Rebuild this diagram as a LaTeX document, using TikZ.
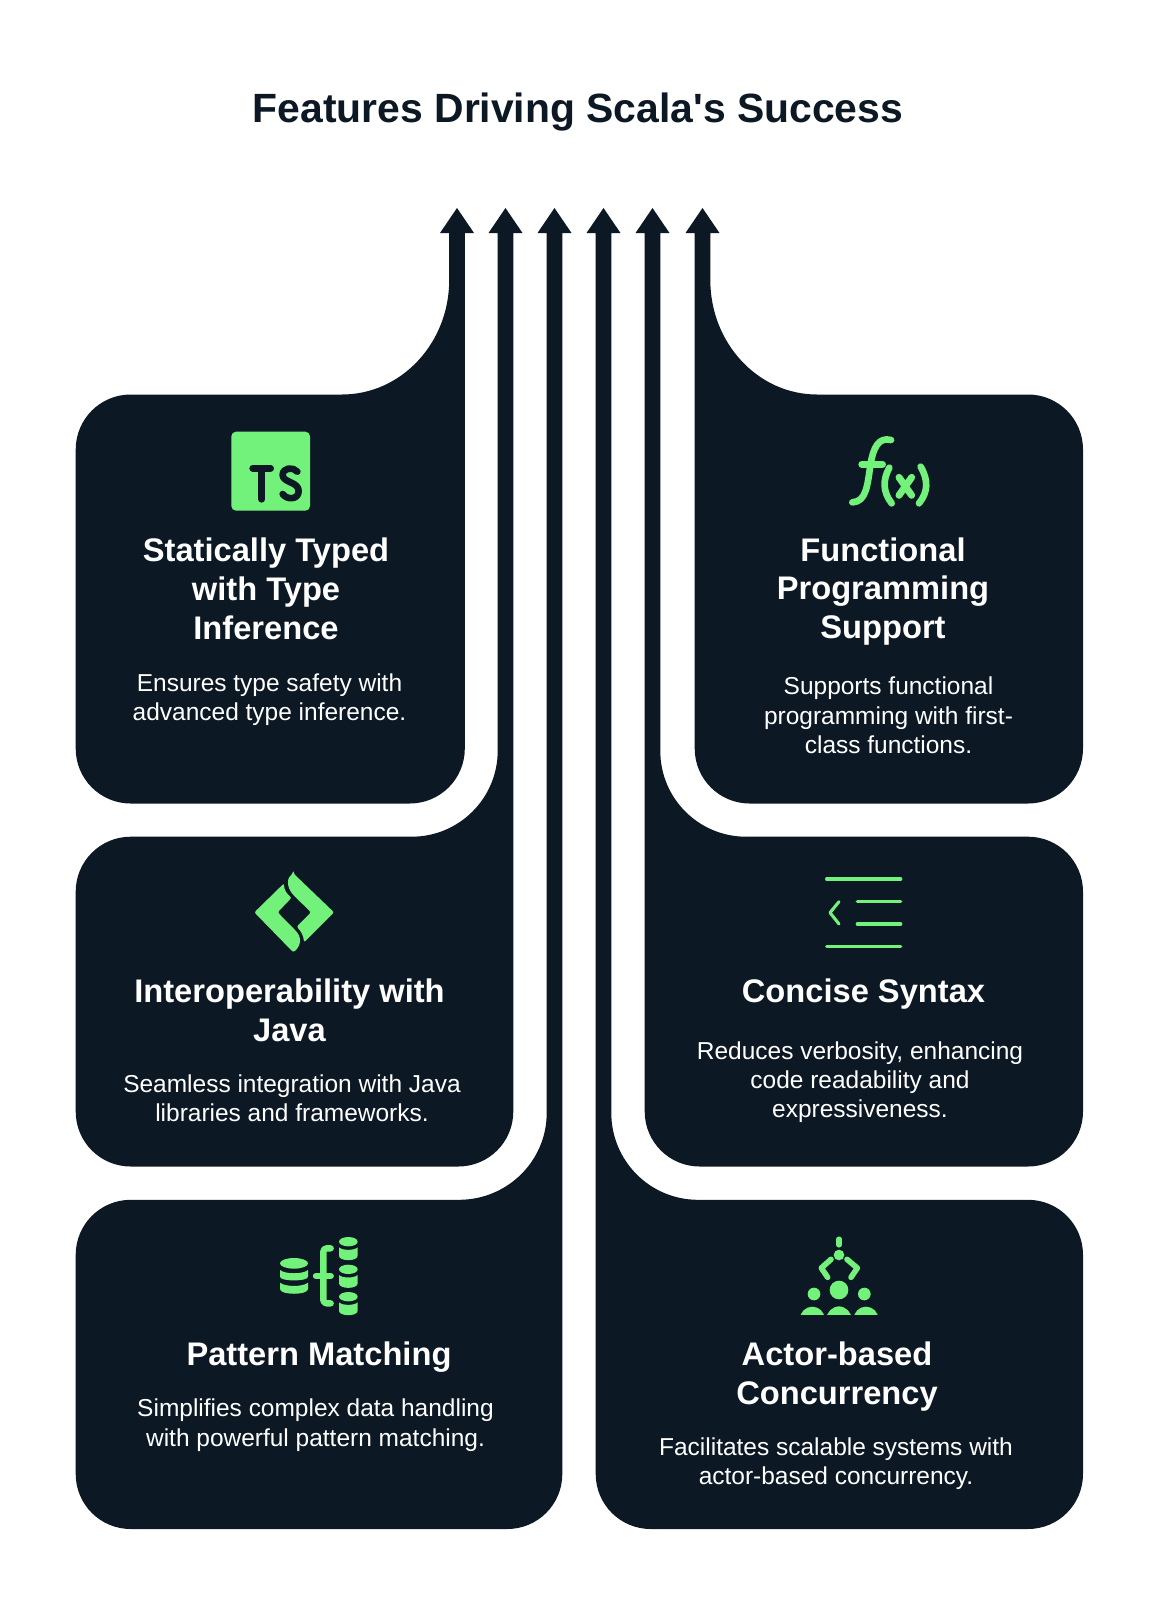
\documentclass[tikz,border=0pt]{standalone}
\usepackage{fontspec}
\setmainfont{Liberation Sans}
\newfontfamily\plainsans{Liberation Sans}
\definecolor{ink}{HTML}{0D1825}
\definecolor{mint}{HTML}{72F27A}
\tikzset{
  card/.style={fill=ink},
  titlebox/.style={text=ink,font=\plainsans\bfseries\fontsize{30.65}{36}\selectfont,align=center,inner sep=0pt},
  headbox/.style={text=white,font=\bfseries\fontsize{24.5}{29.2}\selectfont,align=center,inner sep=0pt},
  bodybox/.style={text=white,font=\fontsize{18.36}{22}\selectfont,align=center,inner sep=0pt},
  iconline/.style={draw=mint,line cap=round,line join=round},
  iconfill/.style={fill=mint},
  inkline/.style={draw=ink,line cap=round,line join=round},
  zoomed/.style={x=.25pt,y=-.25pt}
}
\newcommand{\arrowcard}[7]{%
  \pgfmathsetmacro{\tipx}{#1}\pgfmathsetmacro{\sgn}{#2}%
  \pgfmathsetmacro{\inr}{\tipx+\sgn*7.8}\pgfmathsetmacro{\jnr}{\tipx-\sgn*7.8}%
  \pgfmathsetmacro{\hda}{\tipx+\sgn*17}\pgfmathsetmacro{\hdb}{\tipx-\sgn*17}%
  \pgfmathsetmacro{\oa}{#3+\sgn*55}\pgfmathsetmacro{\ob}{#3+\sgn*24.6}%
  \pgfmathsetmacro{\ia}{\inr-\sgn*55}\pgfmathsetmacro{\ib}{\inr-\sgn*24.6}%
  \pgfmathsetmacro{\ca}{#7+.5523*(\jnr-#7)}\pgfmathsetmacro{\cb}{#6+.5523*(#4-#6)}%
  \fill[card] (\tipx,208) -- (\hda,233) -- (\inr,233) -- (\inr,#5-55)
    .. controls (\inr,#5-24.6) and (\ib,#5) .. (\ia,#5) -- (\oa,#5)
    .. controls (\ob,#5) and (#3,#5-24.6) .. (#3,#5-55) -- (#3,#4+55)
    .. controls (#3,#4+24.6) and (\ob,#4) .. (\oa,#4) -- (#7,#4)
    .. controls (\ca,#4) and (\jnr,\cb) .. (\jnr,#6) -- (\jnr,233) -- (\hdb,233) -- cycle;
}
\begin{document}
\begin{tikzpicture}[x=.75pt,y=-.75pt]
\useasboundingbox (0,0) rectangle (1158,1600);
\fill[white] (0,0) rectangle (1158,1600);
\node[titlebox] (title) at (578,112) {Features Driving Scala's Success};

\arrowcard{457}{1}{75.7}{394.5}{803.5}{280}{342}
\arrowcard{505.5}{1}{75.7}{836.7}{1166.5}{750.7}{411.7}
\arrowcard{554.5}{1}{75.7}{1199.8}{1529}{1113}{459}
\arrowcard{603.5}{-1}{1083}{1199.8}{1529}{1113}{698}
\arrowcard{652.5}{-1}{1083}{836.7}{1166.5}{751}{746}
\arrowcard{702.5}{-1}{1083}{394.5}{803.5}{280}{817}

% text
\node[headbox] (h1) at (266,588.5) {Statically Typed\\with Type\\Inference};
\node[bodybox] (b1) at (269.5,699.5) {Ensures type safety with\\advanced type inference.};
\node[headbox] (h6) at (883,591.5) {Functional\\Programming\\Support};
\node[bodybox] (b6) at (888.5,715.5) {Supports functional\\programming with first-\\class functions.};
\node[headbox] (h2) at (289.5,1010) {Interoperability with\\Java};
\node[bodybox] (b2) at (292,1098.5) {Seamless integration with Java\\libraries and frameworks.};
\node[headbox] (h5) at (863.5,994) {Concise Syntax};
\node[bodybox] (b5) at (860,1082) {Reduces verbosity, enhancing\\code readability and\\expressiveness.};
\node[headbox] (h3) at (319,1357) {Pattern Matching};
\node[bodybox] (b3) at (315.5,1425) {Simplifies complex data handling\\with powerful pattern matching.};
\node[headbox] (h4) at (837,1377) {Actor-based\\Concurrency};
\node[bodybox] (b4) at (836,1463.5) {Facilitates scalable systems with\\actor-based concurrency.};

% TS icon
\begin{scope}[shift={(200,410)},zoomed]
  \fill[iconfill,rounded corners=3.5pt] (94,65) rectangle (330,302);
  \draw[inkline,line width=5pt] (158,175) -- (212,175) (185,175) -- (185,268);
  \draw[inkline,line width=5pt] (292,185) .. controls (280,170) and (248,172) .. (248,195)
     .. controls (248,218) and (296,215) .. (296,243) .. controls (296,270) and (260,270) .. (248,252);
\end{scope}

% f(x) icon
\begin{scope}[shift={(820,420)},zoomed]
  \draw[iconline,line width=5pt] (213,60) .. controls (175,50) and (160,85) .. (152,130)
     .. controls (142,195) and (140,245) .. (97,247);
  \draw[iconline,line width=5pt] (125,133) -- (188,133);
  \draw[iconline,line width=5pt] (208,143) .. controls (188,180) and (188,215) .. (215,250);
  \draw[iconline,line width=5pt] (302,140) .. controls (325,180) and (325,215) .. (297,250);
  \draw[iconline,line width=5.2pt] (237,172) -- (275,226) (275,172) -- (237,226);
\end{scope}

% diamond icon
\begin{scope}[shift={(230,855)},zoomed]
  \fill[iconfill,rounded corners=1.5pt] (73,172) -- (162,85)
     .. controls (162,105) and (172,118) .. (185,128) -- (143,172) -- (192,222)
     .. controls (215,245) and (215,270) .. (190,292) -- cycle;
  \fill[iconfill,rounded corners=1.5pt] (190,55) -- (312,172) -- (222,262)
     .. controls (220,240) and (212,228) .. (200,215) -- (243,172) -- (190,120)
     .. controls (170,95) and (170,68) .. (190,55) -- cycle;
\end{scope}

% concise syntax icon
\begin{scope}[shift={(800,860)},zoomed]
  \draw[iconline,line width=2.5pt] (80,57) -- (302,57) (172,125) -- (302,125)
     (172,192) -- (302,192) (80,259) -- (302,259);
  \draw[iconline,line width=2.3pt] (117,125) -- (90,158) -- (117,192);
\end{scope}

% pattern icon
\begin{scope}[shift={(260,1215)},zoomed]
  \fill[iconfill] (102,145) ellipse[x radius=42,y radius=16];
  \fill[iconfill] (60,165) .. controls (75,178) and (129,178) .. (144,165) -- (144,185)
     .. controls (144,200) and (60,200) .. (60,185) -- cycle;
  \fill[iconfill] (60,203) .. controls (75,216) and (129,216) .. (144,203) -- (144,222)
     .. controls (144,241) and (60,241) .. (60,222) -- cycle;
  \foreach \yy in {80,163,245}{
    \fill[iconfill] (265,\yy) ellipse[x radius=28,y radius=14];
    \fill[iconfill] (237,\yy+17) .. controls (247,\yy+27) and (283,\yy+27) .. (293,\yy+17) -- (293,\yy+42)
       .. controls (293,\yy+60) and (237,\yy+60) .. (237,\yy+42) -- cycle;
  }
  \draw[iconline,line width=4.8pt,rounded corners=2.5pt] (212,100) -- (190,100) -- (190,265) -- (212,265);
  \draw[iconline,line width=4.8pt] (168,183) -- (212,183);
\end{scope}

% actor icon
\begin{scope}[shift={(780,1215)},zoomed]
  \draw[iconline,line width=3.8pt] (177,72) -- (177,90);
  \fill[iconfill] (177,120) circle[radius=16];
  \draw[iconline,line width=4.2pt] (153,133) -- (124,159) -- (143,187);
  \draw[iconline,line width=4.2pt] (201,133) -- (232,159) -- (213,187);
  \fill[iconfill] (177,225) circle[radius=28];
  \fill[iconfill] (102,237) circle[radius=19];
  \fill[iconfill] (253,237) circle[radius=19];
  \clip (40,260) rectangle (320,298);
  \fill[iconfill] (97,312) circle[radius=37];
  \fill[iconfill] (258,312) circle[radius=37];
  \filldraw[iconfill,draw=ink,line width=2pt] (177,312) circle[radius=42];
\end{scope}
\end{tikzpicture}
\end{document}
